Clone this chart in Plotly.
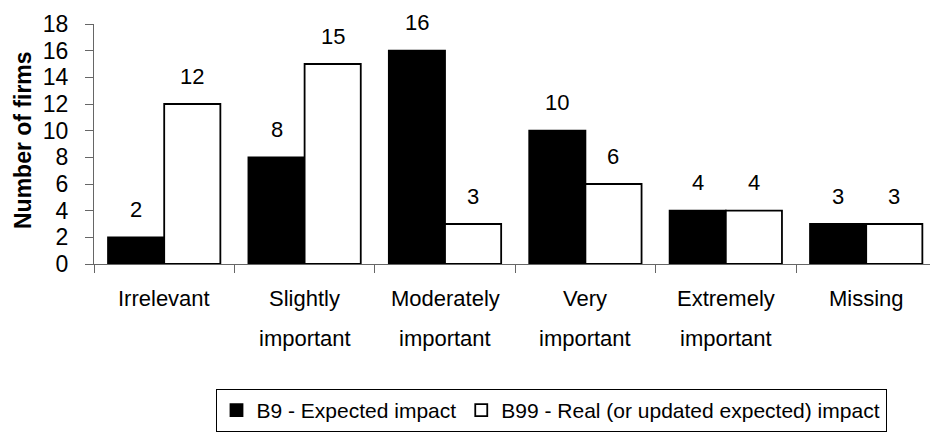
import plotly.graph_objects as go

# Survey categories and number of firms per rating
categories = ["Irrelevant", "Slightly important", "Moderately important",
              "Very important", "Extremely important", "Missing"]
expected_impact = [2, 8, 16, 10, 4, 3]
real_impact = [12, 15, 3, 6, 4, 3]
y_ticks = [0, 2, 4, 6, 8, 10, 12, 14, 16, 18]

FONT = "Liberation Sans, Arial, sans-serif"
W, H = 930, 432
M_L, M_T, M_B = 94, 24, 166
PLOT_W = W - M_L
PLOT_H = H - M_T - M_B
CAT_PX = 140.4  # width of one category band


def paper_y(py):
    return (H - M_B - py) / PLOT_H


fig = go.Figure()
fig.add_trace(go.Bar(
    x=categories, y=expected_impact, name="B9 - Expected impact",
    marker=dict(color="black", line=dict(color="black", width=1.8)),
))
fig.add_trace(go.Bar(
    x=categories, y=real_impact, name="B99 - Real (or updated expected) impact",
    marker=dict(color="white", line=dict(color="black", width=1.8)),
))

annotations = []
# value labels above each bar
for i, cat in enumerate(categories):
    for vals, dx in ((expected_impact, -28), (real_impact, 28)):
        annotations.append(dict(
            x=cat, y=vals[i], xref="x", yref="y", text=str(vals[i]),
            showarrow=False, xshift=dx, yshift=28, yanchor="middle",
            font=dict(family=FONT, size=22, color="black"),
        ))

# category labels, wrapped onto two lines
for cat in categories:
    parts = cat.split(" ", 1)
    for line, py in zip(parts, (301, 341)):
        annotations.append(dict(
            x=cat, y=paper_y(py), xref="x", yref="paper", text=line,
            showarrow=False, yanchor="middle", xanchor="center",
            font=dict(family=FONT, size=22, color="black"),
        ))

# y-axis title
annotations.append(dict(
    x=(23 - M_L) / PLOT_W, y=paper_y(141), xref="paper", yref="paper",
    text="<b>Number of firms</b>", textangle=-90, showarrow=False,
    xanchor="center", yanchor="middle",
    font=dict(family=FONT, size=23, color="black"),
))

fig.update_layout(
    width=W, height=H,
    margin=dict(l=M_L, r=0, t=M_T, b=M_B, pad=0),
    paper_bgcolor="white", plot_bgcolor="white",
    barmode="group", bargap=0.2, bargroupgap=0,
    font=dict(family=FONT, size=22, color="black"),
    showlegend=True,
    legend=dict(
        orientation="h", x=(551 - M_L) / PLOT_W, xanchor="center",
        y=paper_y(392), yanchor="top",
        bordercolor="black", borderwidth=1, bgcolor="white",
        font=dict(family=FONT, size=21, color="black"),
        traceorder="normal",
    ),
    xaxis=dict(
        type="category", range=[-0.5, -0.5 + PLOT_W / CAT_PX],
        showline=True, linecolor="#666", linewidth=1,
        ticks="outside", tickson="boundaries", ticklen=8,
        tickcolor="#666", showticklabels=False, showgrid=False,
        zeroline=False, fixedrange=True,
    ),
    yaxis=dict(
        range=[0, 18], tickvals=y_ticks, ticks="outside", ticklen=8,
        tickcolor="#666", showline=True, linecolor="#666", linewidth=1,
        showgrid=False, zeroline=False, ticklabelstandoff=12,
        tickfont=dict(family=FONT, size=23, color="black"),
    ),
    annotations=annotations,
)

fig.write_html("out.html")
